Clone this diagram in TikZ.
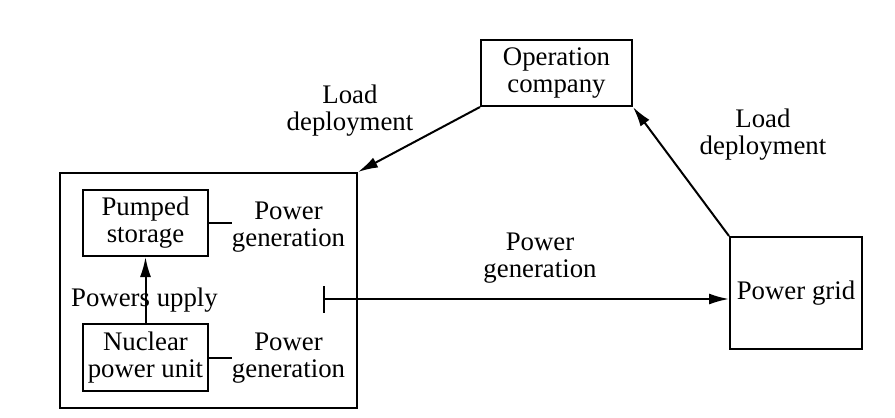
\documentclass[tikz,border=0pt]{standalone}
\usepackage{fontspec}
\setmainfont{Liberation Serif}
\usetikzlibrary{arrows.meta}
\begin{document}
\begin{tikzpicture}[x=0.5pt,y=-0.5pt,
  every node/.style={font=\fontsize{13.4}{13.5}\selectfont, align=center},
  box/.style={draw, line width=1pt, inner sep=0pt},
  lbl/.style={inner sep=0pt},
  conn/.style={line width=1pt},
  tip/.tip={Latex[length=10pt,width=5.5pt]},
  arr/.style={conn, -tip}]
\useasboundingbox (0,0) rectangle (895,418);
% boxes
\node[box, minimum width=148.5pt, minimum height=117.5pt] (plant) at (208.5,290.5) {};
\node[box, minimum width=62.5pt, minimum height=33pt] (ps) at (145.5,223) {Pumped\\storage};
\node[box, minimum width=62.5pt, minimum height=33.5pt] (nu) at (145.5,357.5) {Nuclear\\power unit};
\node[box, minimum width=75.5pt, minimum height=33pt] (op) at (556.5,73) {Operation\\company};
\node[box, minimum width=66pt, minimum height=56pt] (grid) at (796,293) {Power grid};
% labels
\node[lbl] (gen1) at (288.5,227) {Power\\generation};
\node[lbl] (gen2) at (288.5,358) {Power\\generation};
\node[lbl] (sup) at (144.5,300) {Powers upply};
\node[lbl] (gen3) at (540,258) {Power\\generation};
\node[lbl] (ld1) at (350,111) {Load\\deployment};
\node[lbl] (ld2) at (763,135) {Load\\deployment};
% connectors
\coordinate (bar) at (323,299);
\draw[conn] (ps.east) -- (ps.east -| gen1.west);
\draw[conn] (nu.east) -- (nu.east -| gen2.west);
\draw[arr] (nu.north) -- (ps.south);
\draw[conn, {Bar[width=13.5pt]}-tip] (bar) -- (bar -| grid.west);
\draw[arr] (op.south west) -- (plant.north east);
\draw[arr] (grid.north west) -- (op.south east);
\end{tikzpicture}
\end{document}
